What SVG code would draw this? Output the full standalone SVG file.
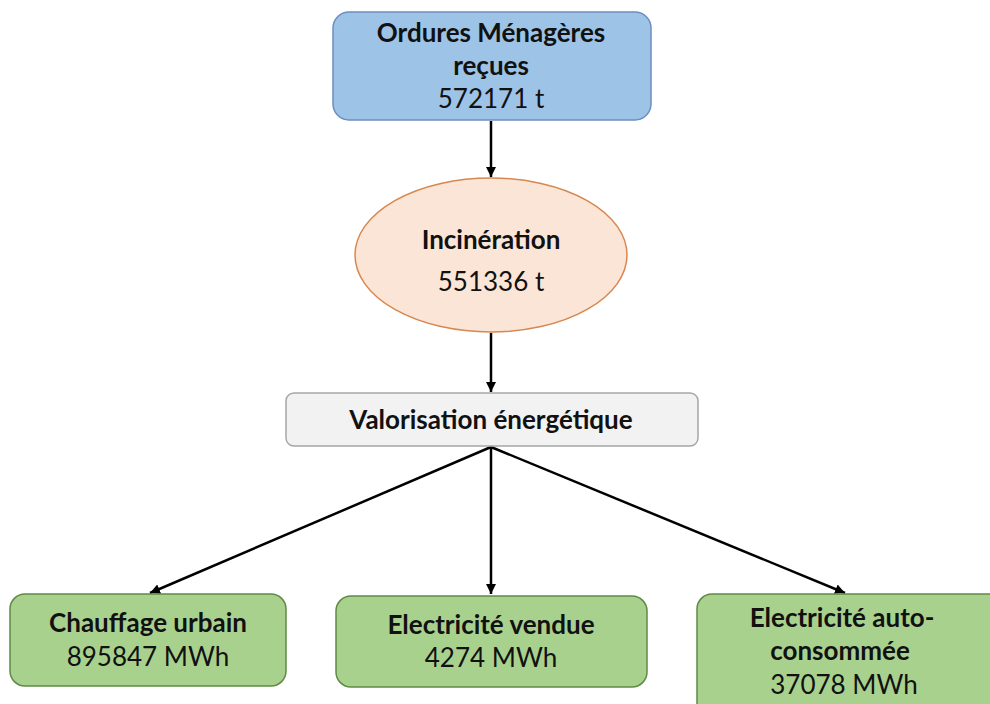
<svg xmlns="http://www.w3.org/2000/svg" width="990" height="704" viewBox="0 0 990 704">
<defs>
<marker id="ah" viewBox="0 0 10 10" refX="10" refY="5" markerWidth="10" markerHeight="10" markerUnits="userSpaceOnUse" orient="auto">
<path d="M0,0 L10,5 L0,10 z" fill="#000"/>
</marker>
<style>
text{font-family:Lato,"Open Sans",sans-serif;font-size:26px;fill:#111;text-anchor:middle}
.b{font-weight:bold}
.blue{fill:#9DC3E6;stroke:#6C8EBF;stroke-width:1.5}
.orange{fill:#FBE5D6;stroke:#D7874F;stroke-width:1.5}
.grey{fill:#F2F2F2;stroke:#A6A6A6;stroke-width:1.5}
.green{fill:#A9D18E;stroke:#5F8A45;stroke-width:1.5}
.c{stroke:#000;stroke-width:2.5;fill:none;marker-end:url(#ah)}
</style>
</defs>
<rect width="990" height="704" fill="#fff"/>
<g id="connectors">
<line class="c" x1="491" y1="121" x2="491" y2="177"/>
<line class="c" x1="491" y1="333" x2="491" y2="392"/>
<line class="c" x1="491" y1="447" x2="150" y2="593"/>
<line class="c" x1="491" y1="447" x2="491" y2="594"/>
<line class="c" x1="491" y1="447" x2="845" y2="593"/>
</g>
<g id="ordures">
<rect class="blue" x="333" y="12" width="318" height="108" rx="16"/>
<text class="b" x="491" y="42">Ordures Ménagères</text>
<text class="b" x="491" y="75">reçues</text>
<text x="491" y="108">572171 t</text>
</g>
<g id="incineration">
<ellipse class="orange" cx="491" cy="255" rx="136" ry="77"/>
<text class="b" x="491" y="249">Incinération</text>
<text x="491" y="291">551336 t</text>
</g>
<g id="valorisation">
<rect class="grey" x="286" y="393" width="412" height="53" rx="8"/>
<text class="b" x="491" y="429">Valorisation énergétique</text>
</g>
<g id="chauffage">
<rect class="green" x="10" y="594" width="276" height="92" rx="15"/>
<text class="b" x="148" y="632">Chauffage urbain</text>
<text x="148" y="666">895847 MWh</text>
</g>
<g id="vendue">
<rect class="green" x="336" y="596" width="311" height="91" rx="15"/>
<text class="b" x="491" y="634">Electricité vendue</text>
<text x="491" y="667">4274 MWh</text>
</g>
<g id="auto">
<rect class="green" x="697" y="594" width="310" height="130" rx="15"/>
<text class="b" x="842" y="627">Electricité auto-</text>
<text class="b" x="840" y="660">consommée</text>
<text x="844" y="694">37078 MWh</text>
</g>
</svg>
